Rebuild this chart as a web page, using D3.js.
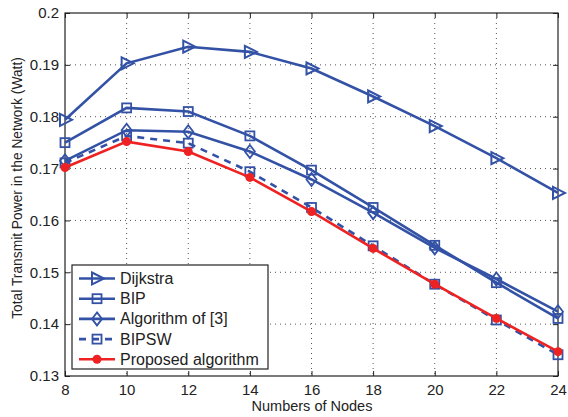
<!DOCTYPE html>
<html>
<head>
<meta charset="utf-8">
<script src="https://cdn.jsdelivr.net/npm/d3@7"></script>
<style>
  body { margin: 0; background: #fff; }
  text { font-family: "Liberation Sans", Arial, sans-serif; fill: #222; }
</style>
</head>
<body>
<div id="chart"></div>
<script>
// data
var nodes = [8, 10, 12, 14, 16, 18, 20, 22, 24];
var dijkstra = [0.1794, 0.1903, 0.1935, 0.1925, 0.1893, 0.1839, 0.1782, 0.1720, 0.1653];
var bip = [0.1750, 0.1817, 0.1810, 0.1763, 0.1697, 0.1625, 0.1552, 0.1480, 0.1411];
var alg3 = [0.1715, 0.1774, 0.1771, 0.1733, 0.1679, 0.1615, 0.1547, 0.1487, 0.1424];
var bipsw = [0.1711, 0.1763, 0.1749, 0.1694, 0.1625, 0.1551, 0.1477, 0.1408, 0.1341];
var proposed = [0.1702, 0.1752, 0.1733, 0.1683, 0.1617, 0.1546, 0.1477, 0.1411, 0.1347];
var xTicks = [8, 10, 12, 14, 16, 18, 20, 22, 24];
var yTicks = [0.13, 0.14, 0.15, 0.16, 0.17, 0.18, 0.19, 0.2];

var blue = "#3352a6", red = "#ee2222";
var series = [
  {name: "Dijkstra", values: dijkstra, color: blue, marker: "tri", dash: null},
  {name: "BIP", values: bip, color: blue, marker: "square", dash: null},
  {name: "Algorithm of [3]", values: alg3, color: blue, marker: "diamond", dash: null},
  {name: "BIPSW", values: bipsw, color: blue, marker: "square", dash: "7,6"},
  {name: "Proposed algorithm", values: proposed, color: red, marker: "circle", dash: null}
];

var svg_dx = 568, svg_dy = 417;
var margin = {top: 13, right: 10, bottom: 41, left: 65};
var plot_right = svg_dx - margin.right, plot_bottom = svg_dy - margin.bottom;

var x = d3.scaleLinear().domain([8, 24]).range([margin.left, plot_right]);
var y = d3.scaleLinear().domain([0.13, 0.2]).range([plot_bottom, margin.top]);

var svg = d3.select("#chart").append("svg")
  .attr("width", svg_dx)
  .attr("height", svg_dy);

// dotted grid
var grid = svg.append("g").attr("stroke", "#555").attr("stroke-width", 1)
  .attr("stroke-dasharray", "1,4");
grid.selectAll(".gx").data(xTicks.slice(1, -1)).enter().append("line")
  .attr("x1", d => x(d)).attr("x2", d => x(d))
  .attr("y1", margin.top).attr("y2", plot_bottom);
grid.selectAll(".gy").data(yTicks.slice(1, -1)).enter().append("line")
  .attr("y1", d => y(d)).attr("y2", d => y(d))
  .attr("x1", margin.left).attr("x2", plot_right);

// axes, ticks pointing inward like matlab
var xAxis = d3.axisBottom(x).tickValues(xTicks).tickSize(-5).tickPadding(8).tickFormat(d3.format("d"));
var yAxis = d3.axisLeft(y).tickValues(yTicks).tickSize(-5).tickPadding(6).tickFormat(d => String(+d.toFixed(2)));

function styleAxis(g) {
  g.select(".domain").remove();
  g.selectAll("line").attr("stroke", "#222");
  g.selectAll("text").style("font-size", "15px").attr("fill", "#222")
    .style("font-family", "'Liberation Sans', Arial, sans-serif");
}
svg.append("g").attr("transform", "translate(0," + plot_bottom + ")").call(xAxis).call(styleAxis);
svg.append("g").attr("transform", "translate(" + margin.left + ",0)").call(yAxis).call(styleAxis);
svg.append("g").attr("transform", "translate(0," + margin.top + ")")
  .call(d3.axisTop(x).tickValues(xTicks).tickSize(-5).tickFormat("")).call(styleAxis);
svg.append("g").attr("transform", "translate(" + plot_right + ",0)")
  .call(d3.axisRight(y).tickValues(yTicks).tickSize(-5).tickFormat("")).call(styleAxis);

svg.append("rect")
  .attr("x", margin.left).attr("y", margin.top)
  .attr("width", plot_right - margin.left).attr("height", plot_bottom - margin.top)
  .attr("fill", "none").attr("stroke", "#222").attr("stroke-width", 1.2);

function drawMarker(g, type, cx, cy, color) {
  if (type === "tri") {
    g.append("path").attr("d", "M" + (cx - 5) + "," + (cy - 6) + "L" + (cx + 7) + "," + cy + "L" + (cx - 5) + "," + (cy + 6) + "Z")
      .attr("fill", "none").attr("stroke", color).attr("stroke-width", 2);
  } else if (type === "square") {
    g.append("rect").attr("x", cx - 4.5).attr("y", cy - 4.5).attr("width", 9).attr("height", 9)
      .attr("fill", "none").attr("stroke", color).attr("stroke-width", 1.8);
  } else if (type === "diamond") {
    g.append("path").attr("d", "M" + cx + "," + (cy - 6.5) + "L" + (cx + 5) + "," + cy + "L" + cx + "," + (cy + 6.5) + "L" + (cx - 5) + "," + cy + "Z")
      .attr("fill", "none").attr("stroke", color).attr("stroke-width", 1.8);
  } else {
    g.append("circle").attr("cx", cx).attr("cy", cy).attr("r", 4.5).attr("fill", color);
  }
}

var line = d3.line().x(d => x(d[0])).y(d => y(d[1]));

series.forEach(function(s) {
  var g = svg.append("g");
  var pts = nodes.map((n, i) => [n, s.values[i]]);
  g.append("path").datum(pts).attr("d", line)
    .attr("fill", "none").attr("stroke", s.color).attr("stroke-width", 2.6)
    .attr("stroke-dasharray", s.dash);
  pts.forEach(p => drawMarker(g, s.marker, x(p[0]), y(p[1]), s.color));
});

// legend
var lg = svg.append("g").attr("transform", "translate(72,265)");
lg.append("rect").attr("width", 196).attr("height", 104)
  .attr("fill", "#fff").attr("stroke", "#222").attr("stroke-width", 1.2);
series.forEach(function(s, i) {
  var cy = 13.5 + i * 20.2;
  lg.append("line").attr("x1", 7).attr("x2", 43).attr("y1", cy).attr("y2", cy)
    .attr("stroke", s.color).attr("stroke-width", 2.6).attr("stroke-dasharray", s.dash ? "7,6" : null);
  drawMarker(lg, s.marker, 25, cy, s.color);
  lg.append("text").attr("x", 48).attr("y", cy + 5.5).style("font-size", "16px").text(s.name);
});

// axis labels
svg.append("text").attr("x", 312).attr("y", 411)
  .attr("text-anchor", "middle").style("font-size", "14.5px").text("Numbers of Nodes");
svg.append("text").attr("transform", "translate(22,188) rotate(-90)")
  .attr("text-anchor", "middle").style("font-size", "13.8px")
  .text("Total Transmit Power in the Network (Watt)");
</script>
</body>
</html>
